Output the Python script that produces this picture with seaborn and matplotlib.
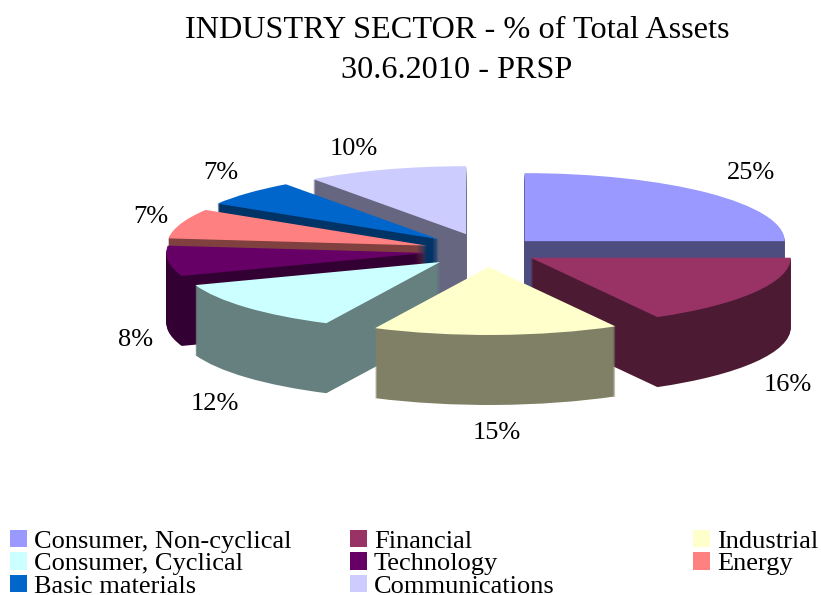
import matplotlib
matplotlib.use("Agg")
import matplotlib.pyplot as plt
import seaborn as sns

sectors = ["Consumer, Non-cyclical", "Financial", "Industrial", "Consumer, Cyclical",
           "Technology", "Energy", "Basic materials", "Communications"]
# slice sizes, the printed labels are rounded differently
shares = [25, 16.9, 15.3, 12.3, 7.2, 7.1, 6.2, 10]
pct_labels = ["25%", "16%", "15%", "12%", "8%", "7%", "7%", "10%"]
top_colors = ["#9999FF", "#993366", "#FFFFCC", "#CCFFFF", "#660066", "#FF8080", "#0066CC", "#CCCCFF"]
side_colors = ["#4D4D80", "#4D1A33", "#808066", "#668080", "#330033", "#804040", "#003366", "#666680"]
explode = [0.205, 0.195, 0.235, 0.243, 0.235, 0.244, 0.253, 0.26]

# where the % labels sit, in pixels
label_x = [751, 788, 497, 215, 136, 151, 221, 354]
label_y = [173, 385, 433, 404, 340, 217, 173, 149]

sns.set_theme(style="white")
plt.rcParams["font.family"] = ["Liberation Serif", "DejaVu Serif"]
plt.rcParams["text.color"] = "black"

W, H = 821, 595
cx, cy, rx, ry = 487, 251, 260, 68
depth = 70

fig = plt.figure(figsize=(W / 100, H / 100), dpi=100)
ax = fig.add_axes([0, 0, 1, 1])

# extrude the pie by stacking it from the bottom up
for k in range(depth, 0, -1):
    ax.pie(shares, explode=explode, colors=side_colors, startangle=90, counterclock=False,
           center=(0, -k / ry), radius=1, wedgeprops={"linewidth": 0})
top, _ = ax.pie(shares, explode=explode, colors=top_colors, startangle=90, counterclock=False,
                center=(0, 0), radius=1, wedgeprops={"linewidth": 0})

ax.set_aspect("auto")
ax.set_xlim(-cx / rx, (W - cx) / rx)
ax.set_ylim((cy - H) / ry, cy / ry)
ax.axis("off")

fig.text(457 / W, 1 - 31 / H, "INDUSTRY SECTOR - % of Total Assets", fontsize=23.25, ha="center", va="center")
fig.text(457 / W, 1 - 70 / H, "30.6.2010 - PRSP", fontsize=23.25, ha="center", va="center")

for txt, x, y in zip(pct_labels, label_x, label_y):
    fig.text(x / W, 1 - y / H, txt, fontsize=19, ha="center", va="center")

# three separate legends, the columns are not evenly spaced in the original
for col, x0 in enumerate([2, 342, 685]):
    fig.legend(top[col::3], sectors[col::3], loc="upper left", bbox_to_anchor=(x0 / W, 1 - 522 / H),
               frameon=False, fontsize=19, handlelength=0.64, handleheight=0.64, handletextpad=0.27,
               labelspacing=-0.025, borderpad=0.3, borderaxespad=0)

fig.savefig("out.png", dpi=100)
